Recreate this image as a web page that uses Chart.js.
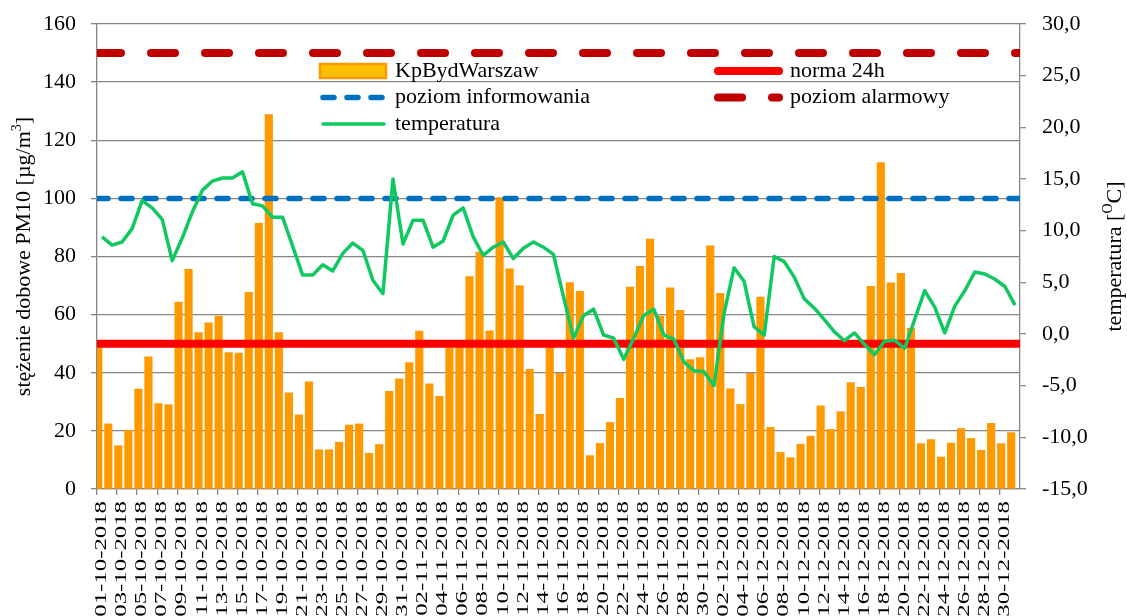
<!DOCTYPE html>
<html>
<head>
<meta charset="utf-8">
<script src="https://cdn.jsdelivr.net/npm/chart.js@4.4.1/dist/chart.umd.min.js"></script>
<style>
html,body{margin:0;padding:0;background:#fff}
#wrap{width:1127px;height:616px;position:relative}
</style>
</head>
<body>
<div id="wrap"><canvas id="c"></canvas></div>
<script>
/* PM10 daily values, KpBydWarszaw station, Oct-Dec 2018 */
const MONTHS=[['10',31],['11',30],['12',31]];
const YEAR='2018';
const DAYS=[];
MONTHS.forEach(([m,n])=>{for(let d=1;d<=n;d++)DAYS.push(String(d).padStart(2,'0')+'-'+m+'-'+YEAR);});

const PM10=[
  51,22.4,14.9,20.2,34.4,45.5,29.4,29.0,64.3,75.6,
  53.8,57.2,59.5,46.9,46.8,67.7,91.4,128.8,53.8,33.1,
  25.5,36.9,13.5,13.5,16.1,22.0,22.4,12.3,15.3,33.6,
  37.9,43.5,54.3,36.2,31.9,48.5,49.5,73.1,81.5,54.4,
  100.3,75.8,70.0,41.2,25.7,49,39.8,71.0,68.0,11.5,
  15.7,22.9,31.2,69.5,76.6,86.0,59.5,69.2,61.5,44.5,
  45.2,83.7,67.3,34.5,29.1,39.8,66.0,21.2,12.6,10.8,
  15.4,18.2,28.6,20.5,26.6,36.6,35.0,69.7,112.3,70.9,
  74.2,55.3,15.6,17.0,11.0,15.8,20.8,17.4,13.3,22.6,
  15.6,19.4
];
const TEMP=[
  9.4,8.6,8.9,10.2,12.9,12.2,11.1,7.1,9.3,11.8,
  13.9,14.8,15.1,15.1,15.7,12.6,12.4,11.3,11.3,8.5,
  5.7,5.7,6.7,6.1,7.8,8.8,8.1,5.2,3.9,15.0,
  8.7,11.0,11.0,8.4,9.0,11.5,12.2,9.4,7.6,8.4,
  8.9,7.3,8.3,8.9,8.4,7.7,3.6,-0.4,1.8,2.4,
  -0.1,-0.4,-2.45,-0.4,1.8,2.4,-0.1,-0.5,-2.7,-3.55,
  -3.65,-5.0,2.0,6.4,5.1,0.7,-0.1,7.5,7.0,5.5,
  3.4,2.5,1.4,0.2,-0.65,0.1,-1.0,-2.0,-0.7,-0.6,
  -1.4,1.4,4.2,2.6,0.1,2.7,4.2,6.0,5.8,5.3,
  4.6,2.8
];
const NORMA_24H=50, POZIOM_INFO=100, POZIOM_ALARM=150;

const FONT='"Liberation Serif","Times New Roman",serif';
const GRID='#868686';
Chart.defaults.color='#000';
Chart.defaults.font.family=FONT;
Chart.defaults.font.size=22;

// threshold lines span the full category range
const XL_MIN=-0.5, XL_MAX=DAYS.length-0.5;
const flat=v=>[{x:XL_MIN,y:v},{x:XL_MAX,y:v}];

const overlay={
  id:'overlay',
  afterDraw(chart){
    const ctx=chart.ctx, ca=chart.chartArea, xs=chart.scales.x;
    const midY=(ca.top+ca.bottom)/2;
    ctx.save();
    ctx.fillStyle='#000';

    // x labels, every second day, rotated & stretched
    ctx.font='16px '+FONT;
    ctx.textAlign='right';ctx.textBaseline='middle';
    for(let i=0;i<DAYS.length;i+=2){
      const x=xs.getPixelForValue(i);
      ctx.save();
      ctx.translate(x,ca.bottom+12);
      ctx.rotate(-Math.PI/2);
      ctx.scale(1.55,1);
      ctx.fillText(DAYS[i],0,0);
      ctx.restore();
    }

    // axis titles with superscripts
    function title(cx,parts){
      ctx.save();
      ctx.translate(cx,midY);
      ctx.rotate(-Math.PI/2);
      ctx.textAlign='left';ctx.textBaseline='middle';
      let w=0;
      parts.forEach(p=>{ctx.font=(p.sup?'14px ':'22px ')+FONT;w+=ctx.measureText(p.t).width;});
      let x=-w/2;
      parts.forEach(p=>{ctx.font=(p.sup?'14px ':'22px ')+FONT;ctx.fillText(p.t,x,p.sup?-7:0);x+=ctx.measureText(p.t).width;});
      ctx.restore();
    }
    title(24,[{t:'stężenie dobowe PM10 [µg/m'},{t:'3',sup:1},{t:']'}]);
    title(1115,[{t:'temperatura ['},{t:'O',sup:1},{t:'C]'}]);

    // legend inside plot
    const slots=[[0,320,71],[1,715,71],[2,320,97.5],[3,715,97.5],[4,320,124]];
    slots.forEach(([i,x,y])=>{
      const ds=chart.data.datasets[i];
      if(ds.type==='bar'){
        ctx.fillStyle='#FFC000';ctx.strokeStyle='#FF9900';ctx.lineWidth=2.5;
        ctx.fillRect(x,y-7,66,14);ctx.strokeRect(x,y-7,66,14);
      }else{
        ctx.strokeStyle=ds.borderColor;ctx.lineWidth=ds.borderWidth;
        ctx.lineCap='round';ctx.setLineDash(ds.borderDash||[]);
        ctx.beginPath();ctx.moveTo(x+3,y);ctx.lineTo(x+64,y);ctx.stroke();
        ctx.setLineDash([]);
      }
      ctx.fillStyle='#000';ctx.font='22px '+FONT;
      ctx.textAlign='left';ctx.textBaseline='middle';
      ctx.fillText(ds.label,x+75,y);
    });
    ctx.restore();
  }
};

const fitV=w=>s=>{s.width=w;s.paddingTop=0;s.paddingBottom=0;};

new Chart(document.getElementById('c'),{
  type:'bar',
  data:{labels:DAYS,datasets:[
    {type:'bar',label:'KpBydWarszaw',data:PM10,backgroundColor:'#FF9900',borderWidth:0,
     barThickness:7.5,categoryPercentage:1,xAxisID:'x',yAxisID:'y',order:5},
    {type:'line',label:'norma 24h',data:flat(NORMA_24H),xAxisID:'xl',yAxisID:'y',
     borderColor:'#FF0000',borderWidth:8,pointRadius:0,order:4},
    {type:'line',label:'poziom informowania',data:flat(POZIOM_INFO),xAxisID:'xl',yAxisID:'y',
     borderColor:'#0070C0',borderWidth:5.5,borderDash:[11,13],borderCapStyle:'round',pointRadius:0,order:3},
    {type:'line',label:'poziom alarmowy',data:flat(POZIOM_ALARM),xAxisID:'xl',yAxisID:'y',
     borderColor:'#C00000',borderWidth:8,borderDash:[24,30],borderCapStyle:'round',pointRadius:0,order:2},
    {type:'line',label:'temperatura',data:TEMP,xAxisID:'x',yAxisID:'y1',
     borderColor:'#10C860',borderWidth:3.5,borderJoinStyle:'round',pointRadius:0,tension:0,order:1}
  ]},
  options:{
    responsive:true,maintainAspectRatio:false,animation:false,
    layout:{padding:{top:24,left:0,right:0,bottom:0}},
    plugins:{legend:{display:false},tooltip:{enabled:false}},
    scales:{
      x:{type:'category',offset:true,
         grid:{offset:true,drawOnChartArea:false,tickLength:6,lineWidth:1.3,
               color:c=>c.index%2===0?GRID:'rgba(0,0,0,0)'},
         border:{color:GRID,width:1.3},
         ticks:{display:false,autoSkip:false},
         afterFit:s=>{s.height=127;}},
      xl:{type:'linear',position:'bottom',offset:false,min:XL_MIN,max:XL_MAX,
         ticks:{display:false},grid:{display:false,drawTicks:false,offset:false},border:{display:false},
         afterFit:s=>{s.height=0;}},
      y:{position:'left',min:0,max:160,
         ticks:{stepSize:20,padding:15,font:{size:22}},
         grid:{color:GRID,lineWidth:1.3,tickLength:6},
         border:{color:GRID,width:1.3},
         afterFit:fitV(97)},
      y1:{position:'right',min:-15,max:30,
         ticks:{stepSize:5,padding:16,font:{size:22},callback:v=>v.toFixed(1).replace('.',',')},
         grid:{drawOnChartArea:false,color:GRID,lineWidth:1.3,tickLength:6},
         border:{color:GRID,width:1.3},
         afterFit:fitV(107)}
    }
  },
  plugins:[overlay]
});
</script>
</body>
</html>
